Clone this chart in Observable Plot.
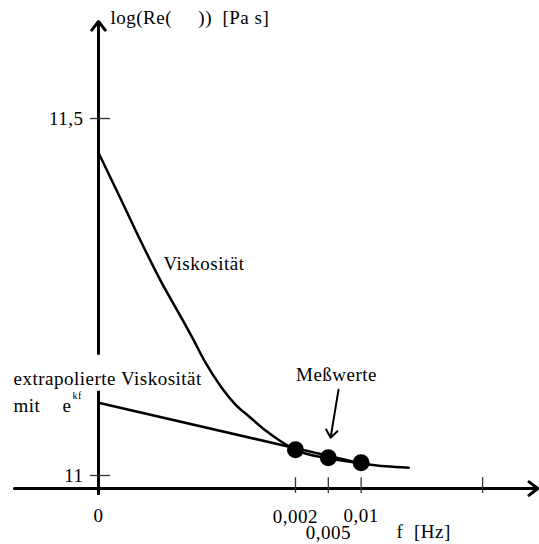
<!DOCTYPE html>
<html>
<head>
<meta charset="utf-8">
<script src="https://cdn.jsdelivr.net/npm/d3@7"></script>
<script src="https://cdn.jsdelivr.net/npm/@observablehq/plot@0.6"></script>
<style>
  html, body { margin: 0; padding: 0; background: #fff; }
  svg text { white-space: pre; letter-spacing: 0.5px; }
</style>
</head>
<body>
<div id="chart"></div>
<script>
// Schematic frequency axis: positions along the axis (not proportional to Hz)
const xTickPos = [0, 6, 7, 8, 11.7];
const xTickLabels = ["0", "0,002", "0,005", "0,01", ""];
const yTickVals = [11, 11.5];
const yTickLabels = ["11", "11,5"];

// Viscosity curve, log(Re(η)) over the schematic frequency position
const viscX = [0, 0.67, 1.28, 1.89, 2.5, 2.87, 3.26, 3.72, 4.18, 4.63, 5.09, 5.55, 6, 7, 8, 8.75, 9.45];
const viscY = [11.452, 11.388, 11.329, 11.273, 11.223, 11.192, 11.158, 11.125, 11.099, 11.081, 11.063, 11.048, 11.036, 11.024, 11.017, 11.013, 11.011];

// Measured values
const measX = [6, 7, 8];
const measY = [11.036, 11.025, 11.018];

// Extrapolated viscosity (exponential fit) from f = 0 to the last measurement
const extraX = [0, 8];
const extraY = [11.102, 11.017];

const visc = viscX.map((x, i) => ({x, y: viscY[i]}));
const meas = measX.map((x, i) => ({x, y: measY[i]}));
const extra = extraX.map((x, i) => ({x, y: extraY[i]}));
const xTicks = xTickPos.map((x, i) => ({x, label: xTickLabels[i], low: xTickLabels[i] === "0,005"}));
const yTicks = yTickVals.map((y, i) => ({y, label: yTickLabels[i]}));

const axisY = 10.9818;          // level of the frequency axis
const font = "Liberation Serif, Times New Roman, serif";
const fs = 19;

const plot = Plot.plot({
  width: 539,
  height: 544,
  margin: 0,
  style: {fontFamily: font, background: "#fff", overflow: "visible"},
  x: {domain: [-2.985, 13.433], axis: null},
  y: {domain: [10.9034, 11.6653], axis: null},
  marks: [
    // frequency axis with arrow
    Plot.arrow([{x1: -2.56, x2: 13.38, y1: axisY, y2: axisY}], {
      x1: "x1", x2: "x2", y1: "y1", y2: "y2",
      stroke: "#000", strokeWidth: 3, headLength: 5.5, headAngle: 75, bend: 0
    }),
    // viscosity axis: lower piece and upper piece with arrow (gap behind the label)
    Plot.ruleX([0], {y1: 10.972, y2: 11.118, stroke: "#000", strokeWidth: 3}),
    Plot.arrow([{x1: 0, x2: 0, y1: 11.171, y2: 11.636}], {
      x1: "x1", x2: "x2", y1: "y1", y2: "y2",
      stroke: "#000", strokeWidth: 3, headLength: 5.5, headAngle: 75, bend: 0
    }),
    // ticks
    Plot.ruleX(xTicks.filter(d => d.x > 0), {x: "x", y1: 10.975, y2: 10.997, stroke: "#333", strokeWidth: 1.3}),
    Plot.ruleY(yTicks, {y: "y", x1: -0.244, x2: 0.366, stroke: "#333", strokeWidth: 1.3}),
    // tick labels
    Plot.text(xTicks.filter(d => !d.low), {x: "x", y: d => d.label === "0,002" ? 10.942 : 10.944, text: "label", fontSize: fs, fill: "#000"}),
    Plot.text(xTicks.filter(d => d.low), {x: "x", y: 10.9195, text: "label", fontSize: fs, fill: "#000"}),
    Plot.text(yTicks, {x: -0.457, y: "y", text: "label", textAnchor: "end", fontSize: fs, fill: "#000"}),
    // curves
    Plot.line(visc, {x: "x", y: "y", stroke: "#000", strokeWidth: 2.5, curve: "monotone-x"}),
    Plot.line(extra, {x: "x", y: "y", stroke: "#000", strokeWidth: 2.5}),
    Plot.dot(meas, {x: "x", y: "y", r: 8.5, fill: "#000", stroke: "none"}),
    // annotations
    Plot.text([{x: 0.366, y: 11.641, t: "log(Re(     ))  [Pa s]"}], {x: "x", y: "y", text: "t", textAnchor: "start", fontSize: fs, fill: "#000"}),
    Plot.text([{x: 9.08, y: 10.9216, t: "f  [Hz]"}], {x: "x", y: "y", text: "t", textAnchor: "start", fontSize: fs, fill: "#000"}),
    Plot.text([{x: 1.98, y: 11.297, t: "Viskosität"}], {x: "x", y: "y", text: "t", textAnchor: "start", fontSize: fs, fill: "#000"}),
    Plot.text([{x: -2.59, y: 11.136, t: "extrapolierte Viskosität"}], {x: "x", y: "y", text: "t", textAnchor: "start", fontSize: fs, fill: "#000"}),
    Plot.text([{x: -2.59, y: 11.098, t: "mit"}], {x: "x", y: "y", text: "t", textAnchor: "start", fontSize: fs, fill: "#000"}),
    Plot.text([{x: -1.1, y: 11.098, t: "e"}], {x: "x", y: "y", text: "t", textAnchor: "start", fontSize: fs, fill: "#000"}),
    Plot.text([{x: -0.79, y: 11.111, t: "kf"}], {x: "x", y: "y", text: "t", textAnchor: "start", fontSize: 10, fill: "#000"}),
    Plot.text([{x: 7.25, y: 11.141, t: "Meßwerte"}], {x: "x", y: "y", text: "t", textAnchor: "middle", fontSize: fs, fill: "#000"}),
    Plot.arrow([{x1: 7.31, y1: 11.120, x2: 7.07, y2: 11.053}], {
      x1: "x1", x2: "x2", y1: "y1", y2: "y2",
      stroke: "#000", strokeWidth: 2, headLength: 7, headAngle: 75, bend: 0
    })
  ]
});

document.getElementById("chart").appendChild(plot);
</script>
</body>
</html>
